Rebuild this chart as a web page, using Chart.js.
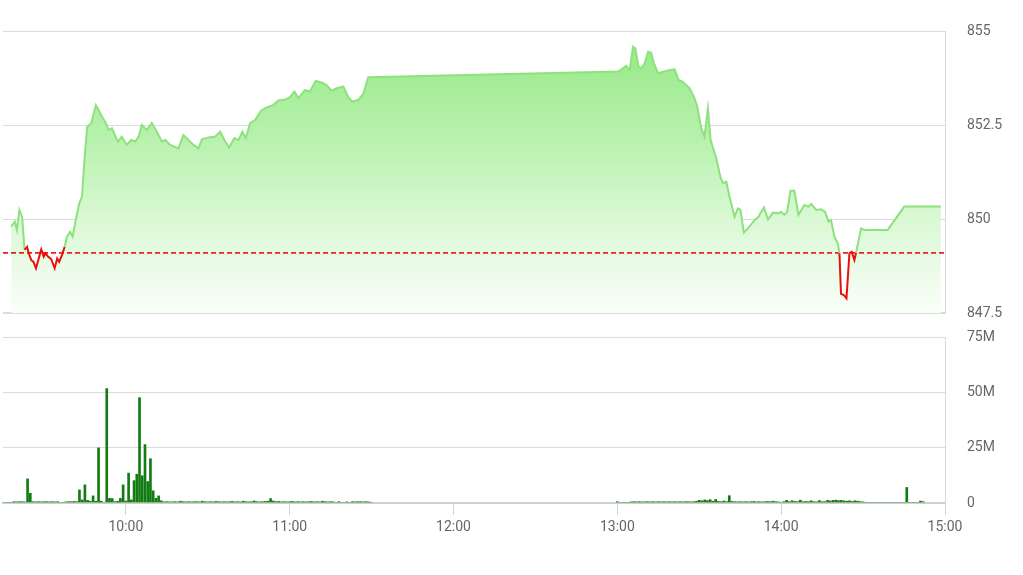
<!DOCTYPE html>
<html>
<head>
<meta charset="utf-8">
<script src="https://cdn.jsdelivr.net/npm/chart.js@4.4.1/dist/chart.umd.min.js"></script>
<style>
    html, body { margin: 0; padding: 0; background: #fff; }
    #wrap { position: relative; width: 1023px; height: 575px; }
    #priceChart { position: absolute; left: 0; top: 0; }
    #volumeChart { position: absolute; left: 0; top: 325px; }
</style>
</head>
<body>
<div id="wrap">
    <canvas id="priceChart" width="1023" height="325"></canvas>
    <canvas id="volumeChart" width="1023" height="250"></canvas>
</div>
<script>
// Giá theo thời gian (phiên sáng + phiên chiều)
const priceTimes = [
    '9:18:00', '9:19:20', '9:20:05', '9:21:00', '9:22:00', '9:22:55', '9:23:50', '9:24:25', '9:25:20', '9:26:10',
    '9:27:05', '9:28:05', '9:29:00', '9:29:55', '9:30:30', '9:31:30', '9:32:40', '9:33:55', '9:34:50', '9:35:35',
    '9:36:35', '9:37:35', '9:38:25', '9:39:35', '9:40:30', '9:41:25', '9:42:55', '9:43:55', '9:44:55', '9:45:50',
    '9:47:20', '9:49:00', '9:50:00', '9:51:15', '9:52:25', '9:53:40', '9:54:55', '9:57:05', '9:58:30', '10:00:20',
    '10:01:55', '10:03:25', '10:04:40', '10:05:50', '10:07:40', '10:09:30', '10:11:20', '10:13:10', '10:14:25', '10:16:15',
    '10:19:15', '10:21:05', '10:22:55', '10:24:45', '10:26:35', '10:27:50', '10:30:15', '10:32:40', '10:34:30', '10:36:05',
    '10:37:45', '10:39:45', '10:41:15', '10:42:40', '10:43:55', '10:45:30', '10:47:20', '10:49:30', '10:51:35', '10:54:00',
    '10:55:50', '10:58:05', '11:00:05', '11:01:45', '11:03:10', '11:05:35', '11:07:25', '11:09:30', '11:11:45', '11:13:30',
    '11:15:20', '11:17:10', '11:19:40', '11:21:30', '11:22:55', '11:25:10', '11:27:00', '11:28:45',
    '13:00:15', '13:01:30', '13:03:15', '13:04:30', '13:05:45', '13:06:35', '13:07:45', '13:08:45', '13:10:00', '13:11:15',
    '13:12:25', '13:13:25', '13:14:55', '13:16:45', '13:19:10', '13:21:00', '13:22:25', '13:24:00', '13:26:25', '13:28:05',
    '13:29:15', '13:30:45', '13:31:55', '13:33:10', '13:34:10', '13:36:15', '13:37:45', '13:38:40', '13:39:55', '13:41:05',
    '13:42:55', '13:44:10', '13:45:05', '13:46:20', '13:47:50', '13:50:15', '13:51:40', '13:53:40', '13:55:10', '13:57:00',
    '13:58:45', '14:00:00', '14:01:10', '14:02:10', '14:03:25', '14:04:50', '14:06:20', '14:08:30', '14:10:00', '14:11:00',
    '14:12:50', '14:14:40', '14:16:05', '14:17:20', '14:18:15', '14:19:30', '14:20:45', '14:21:20', '14:21:55', '14:22:55',
    '14:23:55', '14:25:00', '14:25:50', '14:26:50', '14:27:25', '14:29:15', '14:30:30', '14:39:00', '14:45:05', '14:58:30'
];
const priceValues = [
    849.80, 849.93, 849.71, 850.24, 850.06, 849.18, 849.26, 849.09, 848.91, 848.86,
    848.69, 848.95, 849.19, 849.00, 849.09, 849.00, 848.93, 848.69, 848.95, 848.86,
    849.04, 849.26, 849.53, 849.66, 849.53, 849.89, 850.42, 850.59, 851.66, 852.45,
    852.55, 853.03, 852.90, 852.72, 852.59, 852.37, 852.41, 852.06, 852.19, 851.97,
    852.10, 852.06, 852.19, 852.50, 852.37, 852.55, 852.32, 852.06, 852.10, 851.97,
    851.88, 852.23, 852.10, 851.97, 851.88, 852.12, 852.17, 852.19, 852.32, 852.10,
    851.90, 852.15, 852.10, 852.32, 852.15, 852.55, 852.63, 852.88, 852.97, 853.03,
    853.15, 853.17, 853.24, 853.39, 853.21, 853.43, 853.39, 853.67, 853.63, 853.56,
    853.41, 853.48, 853.52, 853.24, 853.12, 853.17, 853.34, 853.77,
    853.92, 853.98, 854.07, 853.96, 854.58, 854.54, 854.05, 854.01, 854.14, 854.45,
    854.42, 854.14, 853.88, 853.92, 853.96, 853.98, 853.70, 853.65, 853.48, 853.25,
    852.99, 852.41, 852.19, 852.94, 852.10, 851.61, 851.12, 850.95, 850.99, 850.59,
    850.06, 850.28, 850.24, 849.64, 849.75, 849.97, 850.06, 850.31, 849.99, 850.17,
    850.15, 850.19, 850.11, 850.19, 850.75, 850.75, 850.11, 850.37, 850.33, 850.40,
    850.24, 850.26, 850.19, 849.93, 849.97, 849.53, 849.35, 849.09, 848.01, 847.98,
    847.89, 849.09, 849.13, 848.91, 849.10, 849.75, 849.71, 849.71, 850.33, 850.33
];

// Giá tham chiếu (đường đứt nét đỏ)
const refPrice = 849.1;

// Khối lượng theo phút (triệu cp) - phiên sáng từ 9:15
const volMorningStart = '9:15';
const volMorning = [
    0, 0, 0, 0, 0.6, 0.5, 0.6, 0.6, 0.5, 10.9,
    4.4, 0.6, 0.5, 0.6, 0.5, 0.6, 0.6, 0.5, 0.6, 0.5,
    0.6, 0, 0, 0.5, 0.6, 0.6, 0.7, 0.6, 5.9, 1.4,
    8.2, 1.2, 0.8, 3.2, 0.8, 24.9, 0.8, 0, 51.7, 2.1,
    2.0, 0.6, 0.8, 2.1, 8.2, 0.9, 13.5, 1.4, 10.1, 13.0,
    47.6, 12.3, 26.4, 9.7, 20.0, 5.5, 2.1, 3.2, 1.0,
    0.5, 0.6, 0.5, 0.5, 0.6, 0.5, 0.8, 0.6, 0.5, 0.6, 0.5, 0.6,
    0.6, 0.5, 0.8, 0.6, 0.5, 0.6, 0.5, 0.7, 0.6, 0.5, 0.6, 0.5,
    0.6, 0.7, 0.5, 0.6, 0.5, 0.8, 0.6, 0.5, 0.6, 0.9, 0.6, 0.5,
    0.6, 0.7, 0.8, 2.0, 0.9, 0.6, 0.7, 0.5, 0.6, 0.5, 0.6, 0.7,
    0.5, 0.6, 0.5, 0.6, 0.5, 0.6, 0.7, 0.5, 0.6, 0.5, 0.8, 0.6,
    0.5, 0.6, 0.5, 0, 0.6, 0, 0, 0.5, 0, 0.6, 0.5, 0.6,
    0.6, 0.5, 0.6, 0.5, 0
];

// Phiên chiều từ 13:00
const volAfternoonStart = '13:00';
const volAfternoon = [
    0.6, 0, 0, 0, 0,
    0.5, 0.6, 0.5, 0.6, 0.5, 0.5, 0.6, 0.5, 0.6, 0.5, 0.6, 0.5,
    0.6, 0.5, 0.6, 0.5, 0.6, 0.5, 0.6, 0.5, 0.6, 0.6, 0.5, 0.6,
    0.8, 1.2, 1.0, 1.4, 1.1, 1.5, 0.8, 1.6, 0.7, 0.6, 0.9, 0.6,
    3.3,
    0.7, 0.6, 0.5, 0.6, 0.5, 0.6, 0.5, 0.6, 0.7, 0.5, 0.6, 0.5,
    0.6, 0.7, 0.6, 0.8, 0.6, 0.5, 0, 0.6, 1.2, 0.6, 1.0, 0.7,
    0.6, 1.3, 0.6, 0.7, 0.6, 1.0, 0.6, 0.5, 1.1, 0.6, 0.6, 1.2,
    0.9, 1.2, 1.3, 1.1, 1.2, 1.0, 0.8, 1.0, 0.7, 1.0, 0.8, 0.6, 0.5,
    0, 0, 0, 0, 0, 0, 0, 0, 0, 0, 0, 0, 0, 0, 0,
    7.0, 0, 0, 0, 0, 0.9, 0.6
];

// Trục thời gian
const axisStart = '9:15';
const axisEnd = '15:00';
const hourTicks = ['10:00', '11:00', '12:00', '13:00', '14:00', '15:00'];

// Trục giá và khối lượng
const priceMin = 847.5;
const priceMax = 855;
const priceStep = 2.5;
const volMax = 75;
const volStep = 25;

// Chuyển 'H:MM' hoặc 'H:MM:SS' sang số phút
function toMinutes(str) {
    const parts = str.split(':').map(Number);
    return parts[0] * 60 + parts[1] + (parts[2] || 0) / 60;
}

function fmtTime(v) {
    const h = Math.floor(v / 60);
    const m = Math.round(v - h * 60);
    return h + ':' + String(m).padStart(2, '0');
}

const xMin = toMinutes(axisStart);
const xMax = toMinutes(axisEnd);
const tickValues = hourTicks.map(toMinutes);

const pricePoints = priceTimes.map((t, i) => ({ x: toMinutes(t), y: priceValues[i] }));

const volPoints = [];
volMorning.forEach((v, i) => volPoints.push({ x: toMinutes(volMorningStart) + i, y: v }));
volAfternoon.forEach((v, i) => volPoints.push({ x: toMinutes(volAfternoonStart) + i, y: v }));

const FONT = { family: 'Roboto, "Liberation Sans", Arial, sans-serif', size: 14 };
const TEXT_COLOR = '#666';
const GRID_COLOR = '#dcdcdc';
const BORDER_COLOR = '#d3dae2';
const LINE_GREEN = '#8ee27e';
const LINE_RED = '#e8100a';

// Trục y bên phải: khoảng cách nhãn làm bằng tick trong suốt (ticks.padding đẩy lề biểu đồ)
function rightAxis(min, max, step, fmt) {
    return {
        position: 'right',
        min: min,
        max: max,
        afterFit: function(scale) { scale.width = 78; },
        ticks: {
            stepSize: step,
            padding: 0,
            color: TEXT_COLOR,
            font: FONT,
            callback: fmt
        },
        grid: {
            color: GRID_COLOR,
            drawTicks: true,
            tickLength: 22,
            tickColor: 'rgba(0,0,0,0)',
            lineWidth: function(ctx) { return ctx.tick && ctx.tick.value === min ? 2 : 1; }
        },
        border: { display: true, color: BORDER_COLOR, width: 1 }
    };
}

// Nền gradient xanh dưới đường giá
function greenGradient(ctx) {
    const chart = ctx.chart;
    const area = chart.chartArea;
    if (!area) return 'rgba(150,232,135,0.5)';
    const g = chart.ctx.createLinearGradient(0, area.top, 0, area.bottom);
    g.addColorStop(0, 'rgb(146,232,130)');
    g.addColorStop(0.4, 'rgb(186,242,176)');
    g.addColorStop(0.7, 'rgb(221,249,216)');
    g.addColorStop(1, 'rgb(250,254,249)');
    return g;
}

// Biểu đồ giá
new Chart(document.getElementById('priceChart'), {
    type: 'line',
    data: {
        datasets: [
            {
                // đường giá (đỏ khi dưới tham chiếu)
                data: pricePoints,
                borderColor: LINE_GREEN,
                borderWidth: 2,
                pointRadius: 0,
                tension: 0,
                fill: false,
                segment: {
                    borderColor: function(ctx) {
                        const hi = Math.max(ctx.p0.parsed.y, ctx.p1.parsed.y);
                        return hi < refPrice + 0.2 ? LINE_RED : undefined;
                    }
                }
            },
            {
                // đường tham chiếu
                data: [{ x: xMin, y: refPrice }, { x: xMax, y: refPrice }],
                borderColor: '#e3231c',
                borderWidth: 1.6,
                borderDash: [5, 3],
                pointRadius: 0,
                fill: false
            },
            {
                // vùng tô
                data: pricePoints,
                borderWidth: 0,
                borderColor: 'rgba(0,0,0,0)',
                pointRadius: 0,
                tension: 0,
                fill: 'start',
                backgroundColor: greenGradient
            }
        ]
    },
    options: {
        responsive: false,
        animation: false,
        layout: { padding: { left: 3, top: 31, right: 0, bottom: 12 } },
        plugins: {
            legend: { display: false },
            tooltip: { enabled: false },
            filler: { drawTime: 'beforeDatasetsDraw' }
        },
        scales: {
            x: {
                type: 'linear',
                min: xMin,
                max: xMax,
                display: false
            },
            y: rightAxis(priceMin, priceMax, priceStep, function(v) { return String(v); })
        }
    }
});

// Biểu đồ khối lượng
new Chart(document.getElementById('volumeChart'), {
    type: 'bar',
    data: {
        datasets: [{
            data: volPoints,
            backgroundColor: '#127c12',
            barThickness: 2,
            borderWidth: 0
        }]
    },
    options: {
        responsive: false,
        animation: false,
        layout: { padding: { left: 3, top: 12, right: 0, bottom: 32 } },
        plugins: {
            legend: { display: false },
            tooltip: { enabled: false }
        },
        scales: {
            x: {
                type: 'linear',
                min: xMin,
                max: xMax,
                offset: false,
                afterBuildTicks: function(scale) {
                    scale.ticks = tickValues.map(v => ({ value: v }));
                },
                afterFit: function(scale) { scale.height = 40; },
                ticks: {
                    autoSkip: false,
                    maxRotation: 0,
                    padding: 4,
                    color: TEXT_COLOR,
                    font: FONT,
                    callback: function(v) { return fmtTime(v); }
                },
                grid: {
                    offset: false,
                    drawOnChartArea: false,
                    drawTicks: true,
                    tickLength: 12,
                    color: '#cdd5dc'
                },
                border: { display: true, color: '#cfcfcf', width: 2 }
            },
            y: rightAxis(0, volMax, volStep, function(v) { return v === 0 ? '0' : v + 'M'; })
        }
    }
});
</script>
</body>
</html>
